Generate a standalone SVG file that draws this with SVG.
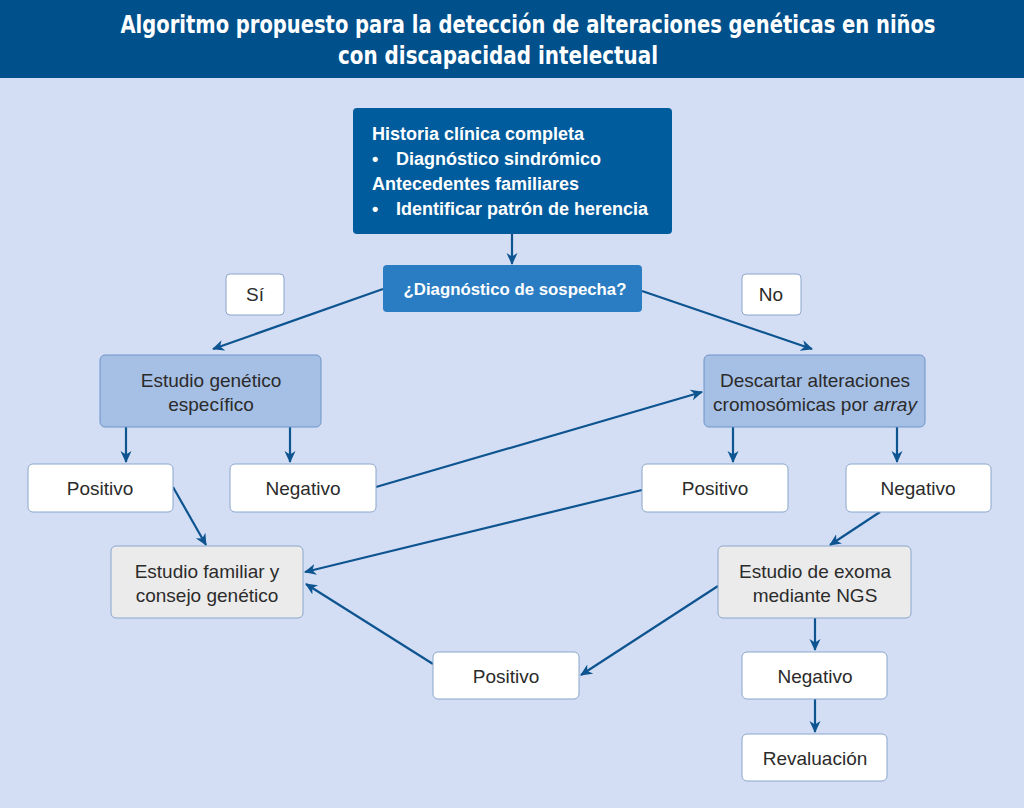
<svg xmlns="http://www.w3.org/2000/svg" width="1024" height="808" viewBox="0 0 1024 808">
<defs>
<marker id="ah" viewBox="0 0 12 12" refX="11" refY="6" markerWidth="12" markerHeight="12" markerUnits="userSpaceOnUse" orient="auto">
<path d="M0,0.5 L12,6 L0,11.5 L3.5,6 Z" fill="#0d5490"/>
</marker>
<style>
.t{font-family:"Liberation Sans",Arial,sans-serif;font-size:19px;fill:#2b2b2b;text-anchor:middle}
.w{font-family:"Liberation Sans",Arial,sans-serif;font-size:18px;fill:#ffffff;font-weight:bold}
.ttl{font-family:"DejaVu Sans Condensed","Liberation Sans Narrow","Liberation Sans",sans-serif;font-size:24px;fill:#ffffff;font-weight:bold}
.white{fill:#ffffff;stroke:#8aa6cc;stroke-width:1}
.mid{fill:#a6bfe4;stroke:#6f94c8;stroke-width:1}
.grey{fill:#ebebeb;stroke:#8aa6cc;stroke-width:1}
.c{stroke:#0d5490;stroke-width:2.2;fill:none;marker-end:url(#ah)}
</style>
</defs>
<rect x="0" y="0" width="1024" height="808" fill="#d3def4"/>
<g id="header">
<rect x="0" y="0" width="1024" height="78" fill="#00508c"/>
<text class="ttl" x="528" y="33" text-anchor="middle" textLength="815" lengthAdjust="spacingAndGlyphs">Algoritmo propuesto para la detección de alteraciones genéticas en niños</text>
<text class="ttl" x="498" y="64" text-anchor="middle" textLength="320" lengthAdjust="spacingAndGlyphs">con discapacidad intelectual</text>
</g>
<g id="connectors">
<line class="c" x1="512" y1="234" x2="512" y2="264"/>
<line class="c" x1="383" y1="289" x2="213" y2="349"/>
<line class="c" x1="642" y1="291" x2="812" y2="349"/>
<line class="c" x1="126" y1="427" x2="126" y2="462"/>
<line class="c" x1="290" y1="427" x2="290" y2="462"/>
<line class="c" x1="733" y1="427" x2="733" y2="462"/>
<line class="c" x1="897" y1="427" x2="897" y2="462"/>
<line class="c" x1="376" y1="487" x2="702" y2="392"/>
<line class="c" x1="173" y1="487" x2="206" y2="545"/>
<line class="c" x1="642" y1="490" x2="305" y2="572"/>
<line class="c" x1="880" y1="512" x2="830" y2="545"/>
<line class="c" x1="718" y1="586" x2="581" y2="675"/>
<line class="c" x1="433" y1="664" x2="306" y2="584"/>
<line class="c" x1="815" y1="618" x2="815" y2="650"/>
<line class="c" x1="815" y1="699" x2="815" y2="732"/>
</g>
<g id="historia">
<rect x="353" y="108" width="319" height="126" rx="4" fill="#005c9d"/>
<text class="w" x="372" y="140">Historia clínica completa</text>
<text class="w" x="372" y="165">•</text>
<text class="w" x="396" y="165">Diagnóstico sindrómico</text>
<text class="w" x="372" y="190">Antecedentes familiares</text>
<text class="w" x="372" y="215">•</text>
<text class="w" x="396" y="215">Identificar patrón de herencia</text>
</g>
<g id="sospecha">
<rect x="383" y="265" width="259" height="47" rx="4" fill="#2a7dc2"/>
<text class="w" x="515" y="295" style="text-anchor:middle;font-size:16.8px">¿Diagnóstico de sospecha?</text>
</g>
<g id="si">
<rect class="white" x="226" y="274" width="58" height="41" rx="4"/>
<text class="t" x="255" y="301">Sí</text>
</g>
<g id="no">
<rect class="white" x="742" y="274" width="59" height="41" rx="4"/>
<text class="t" x="771" y="301">No</text>
</g>
<g id="estudio-genetico">
<rect class="mid" x="100" y="355" width="221" height="72" rx="5"/>
<text class="t" x="211" y="387">Estudio genético</text>
<text class="t" x="211" y="411">específico</text>
</g>
<g id="descartar">
<rect class="mid" x="704" y="355" width="221" height="72" rx="5"/>
<text class="t" x="815" y="387">Descartar alteraciones</text>
<text class="t" x="815" y="411">cromosómicas por <tspan font-style="italic">array</tspan></text>
</g>
<g id="positivo1">
<rect class="white" x="28" y="464" width="145" height="48" rx="5"/>
<text class="t" x="100" y="495">Positivo</text>
</g>
<g id="negativo1">
<rect class="white" x="230" y="464" width="146" height="48" rx="5"/>
<text class="t" x="303" y="495">Negativo</text>
</g>
<g id="positivo2">
<rect class="white" x="642" y="464" width="146" height="48" rx="5"/>
<text class="t" x="715" y="495">Positivo</text>
</g>
<g id="negativo2">
<rect class="white" x="846" y="464" width="145" height="48" rx="5"/>
<text class="t" x="918" y="495">Negativo</text>
</g>
<g id="familiar">
<rect class="grey" x="111" y="546" width="192" height="72" rx="5"/>
<text class="t" x="207" y="578">Estudio familiar y</text>
<text class="t" x="207" y="602">consejo genético</text>
</g>
<g id="exoma">
<rect class="grey" x="718" y="546" width="193" height="72" rx="5"/>
<text class="t" x="815" y="578">Estudio de exoma</text>
<text class="t" x="815" y="602">mediante NGS</text>
</g>
<g id="positivo3">
<rect class="white" x="433" y="652" width="146" height="47" rx="5"/>
<text class="t" x="506" y="683">Positivo</text>
</g>
<g id="negativo3">
<rect class="white" x="742" y="652" width="145" height="47" rx="5"/>
<text class="t" x="815" y="683">Negativo</text>
</g>
<g id="revaluacion">
<rect class="white" x="742" y="734" width="145" height="47" rx="5"/>
<text class="t" x="815" y="765">Revaluación</text>
</g>
</svg>
